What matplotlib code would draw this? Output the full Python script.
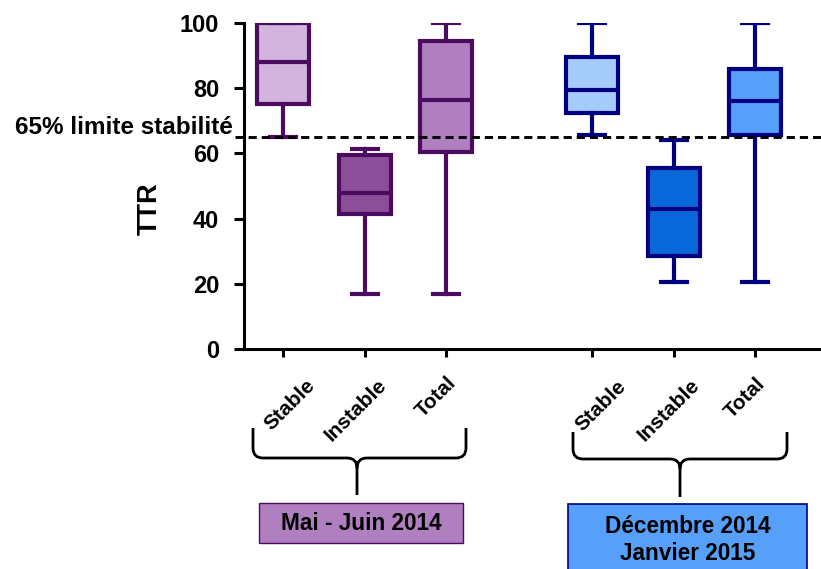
import numpy as np
import matplotlib
matplotlib.use("Agg")
import matplotlib.pyplot as plt
from matplotlib.path import Path
from matplotlib.patches import PathPatch, Rectangle

plt.rcParams['font.family'] = ['Liberation Sans', 'DejaVu Sans']
plt.rcParams['font.weight'] = 'bold'

# data (TTR, %)
categories = ['Stable', 'Instable', 'Total', 'Stable', 'Instable', 'Total']
periods = ['Mai - Juin 2014', 'Décembre 2014\nJanvier 2015']
whisk_lo = [65, 17, 17, 65.5, 20.5, 20.5]
q1 = [75, 41.5, 60.5, 72.5, 28.5, 65.5]
med = [88, 48, 76.5, 79.5, 43, 76]
q3 = [100, 59.5, 94.5, 89.5, 55.5, 86]
whisk_hi = [100, 61.5, 100, 100, 64, 100]
threshold = 65
positions = [1, 2, 3, 4.8, 5.8, 6.8]

fills = ['#D2B4DC', '#8B4F99', '#B07FBF', '#A4CBFA', '#0868D9', '#56A0FA']
edges = ['#4B0B5F'] * 3 + ['#000080'] * 3

fig = plt.figure(figsize=(8.21, 5.69), dpi=100)
ax = fig.add_axes([244 / 821, 1 - 349 / 569, 577 / 821, 326 / 569])

stats = []
for i in range(len(categories)):
    stats.append(dict(whislo=whisk_lo[i], q1=q1[i], med=med[i], q3=q3[i],
                      whishi=whisk_hi[i], label=categories[i]))

for i, s in enumerate(stats):
    ec = edges[i]
    ax.bxp([s], positions=[positions[i]], widths=0.64, capwidths=0.32,
           showfliers=False, patch_artist=True,
           boxprops=dict(facecolor=fills[i], edgecolor=ec, linewidth=3),
           whiskerprops=dict(color=ec, linewidth=3),
           capprops=dict(color=ec, linewidth=3),
           medianprops=dict(color=ec, linewidth=3, solid_capstyle='butt'))

ax.axhline(threshold, xmin=-0.015, xmax=1, color='black', lw=2.1,
           ls=(0, (2.8, 1.7)), clip_on=False, zorder=5)
ax.text(-0.02, 68, '65% limite stabilité', transform=ax.get_yaxis_transform(),
        ha='right', va='center', fontsize=17.5, fontweight='bold')

ax.set_xlim(0.518, 7.61)
ax.set_ylim(0, 100)
ax.set_yticks([0, 20, 40, 60, 80, 100])
ax.set_xticks(positions)
ax.set_xticklabels([])
for sp in ['top', 'right']:
    ax.spines[sp].set_visible(False)
ax.spines['left'].set_linewidth(2.2)
ax.spines['bottom'].set_linewidth(2.2)
ax.tick_params(axis='y', length=7, width=2.2, pad=11, labelsize=17)
ax.tick_params(axis='x', length=6, width=2.2)
for t in ax.get_yticklabels():
    t.set_fontweight('bold')

ax.text(-0.163, 43, 'TTR', transform=ax.get_yaxis_transform(), rotation=90,
        ha='center', va='center', fontsize=19.5, fontweight='bold')

# rotated category labels
dx_px = [7, -9, -10, 8, -5, -10]
y_px = [405, 410, 397, 406, 410, 398]
for i, lab in enumerate(categories):
    ax.text(positions[i] + dx_px[i] / 81.5, -(y_px[i] - 349) / 326, lab,
            transform=ax.get_xaxis_transform(), rotation=45,
            rotation_mode='anchor', ha='center', va='center',
            fontsize=15, fontweight='bold')

# braces and period boxes in pixel coordinates
ov = fig.add_axes([0, 0, 1, 1])
ov.set_xlim(0, 821)
ov.set_ylim(569, 0)
ov.axis('off')
ov.patch.set_alpha(0)


def brace(x0, x1, xc, ytop, yh, ybot):
    r = 10
    verts = [(x0, ytop), (x0, yh - r), (x0, yh), (x0 + r, yh), (xc - r, yh),
             (xc, yh), (xc, yh + r), (xc, ybot),
             (xc, yh + r), (xc, yh), (xc + r, yh), (x1 - r, yh),
             (x1, yh), (x1, yh - r), (x1, ytop)]
    codes = [Path.MOVETO, Path.LINETO, Path.CURVE3, Path.CURVE3, Path.LINETO,
             Path.CURVE3, Path.CURVE3, Path.LINETO,
             Path.MOVETO, Path.CURVE3, Path.CURVE3, Path.LINETO,
             Path.CURVE3, Path.CURVE3, Path.LINETO]
    ov.add_patch(PathPatch(Path(verts, codes), fill=False, lw=2,
                           ec='black', capstyle='butt'))


brace(253, 466, 357, 428, 458, 495)
brace(573, 787, 680, 432, 459, 497)

ov.add_patch(Rectangle((259, 503), 204, 40, fc='#B07FBF', ec='#4B0B5F', lw=1))
ov.text(361, 523, periods[0], ha='center', va='center', fontsize=16.3,
        fontweight='bold')
ov.add_patch(Rectangle((568, 504), 239, 80, fc='#56A0FA', ec='#000080', lw=1.2))
ov.text(688, 540, periods[1], ha='center', va='center', fontsize=16.3,
        fontweight='bold', linespacing=1.2)

fig.savefig('out.png', dpi=100)
